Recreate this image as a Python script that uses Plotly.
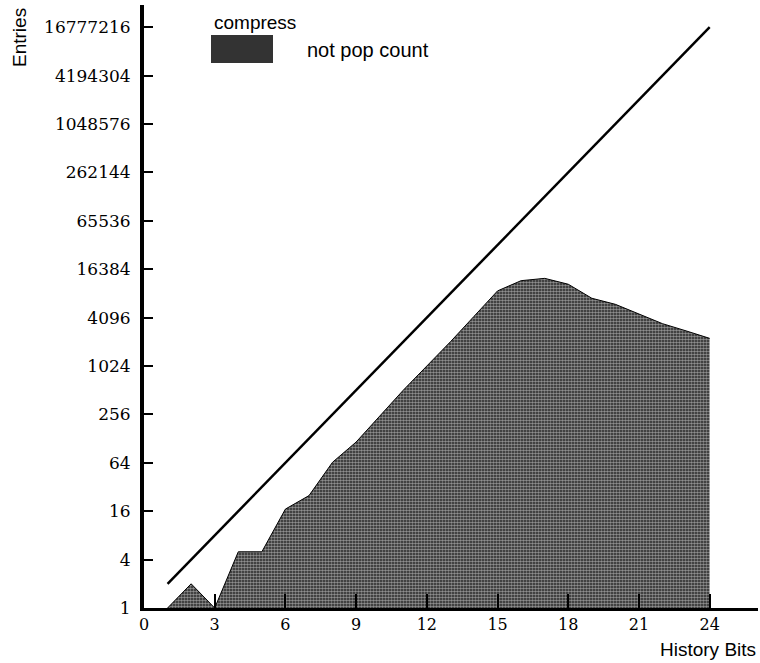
import plotly.graph_objects as go

# ---- data ----
history_bits = list(range(1, 25))
entries_not_pop = [1, 2, 1, 5, 5, 17, 25, 65, 116, 247, 512, 1024, 2048, 4240,
                   8800, 11800, 12600, 10650, 7130, 5990, 4540, 3440, 2800, 2260]
ref_bits = [1, 24]
ref_entries = [2 ** b for b in ref_bits]

y_tick_vals = [4 ** k for k in range(13)]
y_tick_text = [str(v) for v in y_tick_vals]
x_tick_vals = list(range(0, 25, 3))

W, H = 760, 663
L, R, T, B = 144, 2, 5, 55
PW, PH = W - L - R, H - T - B


def px(xp):
    return (xp - L) / PW


def py(yp):
    return (H - B - yp) / PH


fig = go.Figure()

fig.add_trace(go.Scatter(
    x=history_bits, y=entries_not_pop, mode="lines", fill="tozeroy",
    line=dict(color="black", width=1),
    fillcolor="#1a1a1a",
    fillpattern=dict(shape=".", fgcolor="white", bgcolor="#1f1f1f", size=3, solidity=0.6),
    showlegend=False, hoverinfo="x+y",
))

fig.add_trace(go.Scatter(
    x=ref_bits, y=ref_entries, mode="lines",
    line=dict(color="black", width=2.5),
    showlegend=False,
))

serif = "DejaVu Serif"
sans = "Liberation Sans"

fig.update_layout(
    width=W, height=H,
    margin=dict(l=L, r=R, t=T, b=B),
    paper_bgcolor="white", plot_bgcolor="white",
    xaxis=dict(
        range=[0, PW / 23.57], tickvals=x_tick_vals,
        ticks="inside", ticklen=14, tickwidth=1.5, tickcolor="black",
        showline=True, linecolor="black", linewidth=2.5,
        showgrid=False, zeroline=False,
        tickfont=dict(family=serif, size=16, color="black"),
    ),
    yaxis=dict(
        type="log", range=[0, PH / 24.2 * 0.30103],
        tickvals=y_tick_vals, ticktext=y_tick_text,
        ticks="inside", ticklen=9, tickwidth=2, tickcolor="black",
        showline=True, linecolor="black", linewidth=4,
        showgrid=False, zeroline=False,
        ticklabelstandoff=6,
        tickfont=dict(family=serif, size=17, color="black"),
    ),
    showlegend=False,
)

# legend-like decoration
fig.add_shape(type="rect", xref="paper", yref="paper",
              x0=px(211), x1=px(273), y0=py(63), y1=py(35),
              line=dict(width=0), fillcolor="#333333", layer="above")

fig.add_annotation(x=px(212), y=py(23), xref="paper", yref="paper",
                   text="compress", showarrow=False, xanchor="left", yanchor="middle",
                   font=dict(family=sans, size=19, color="black"))
fig.add_annotation(x=px(305), y=py(50), xref="paper", yref="paper",
                   text="not pop count", showarrow=False, xanchor="left", yanchor="middle",
                   font=dict(family=sans, size=20, color="black"))
fig.add_annotation(x=px(20), y=py(38), xref="paper", yref="paper",
                   text="Entries", showarrow=False, textangle=-90,
                   xanchor="center", yanchor="middle",
                   font=dict(family=sans, size=19, color="black"))
fig.add_annotation(x=px(758), y=py(649), xref="paper", yref="paper",
                   text="History Bits", showarrow=False, xanchor="right", yanchor="middle",
                   font=dict(family=sans, size=19, color="black"))

fig.write_html("out.html")
